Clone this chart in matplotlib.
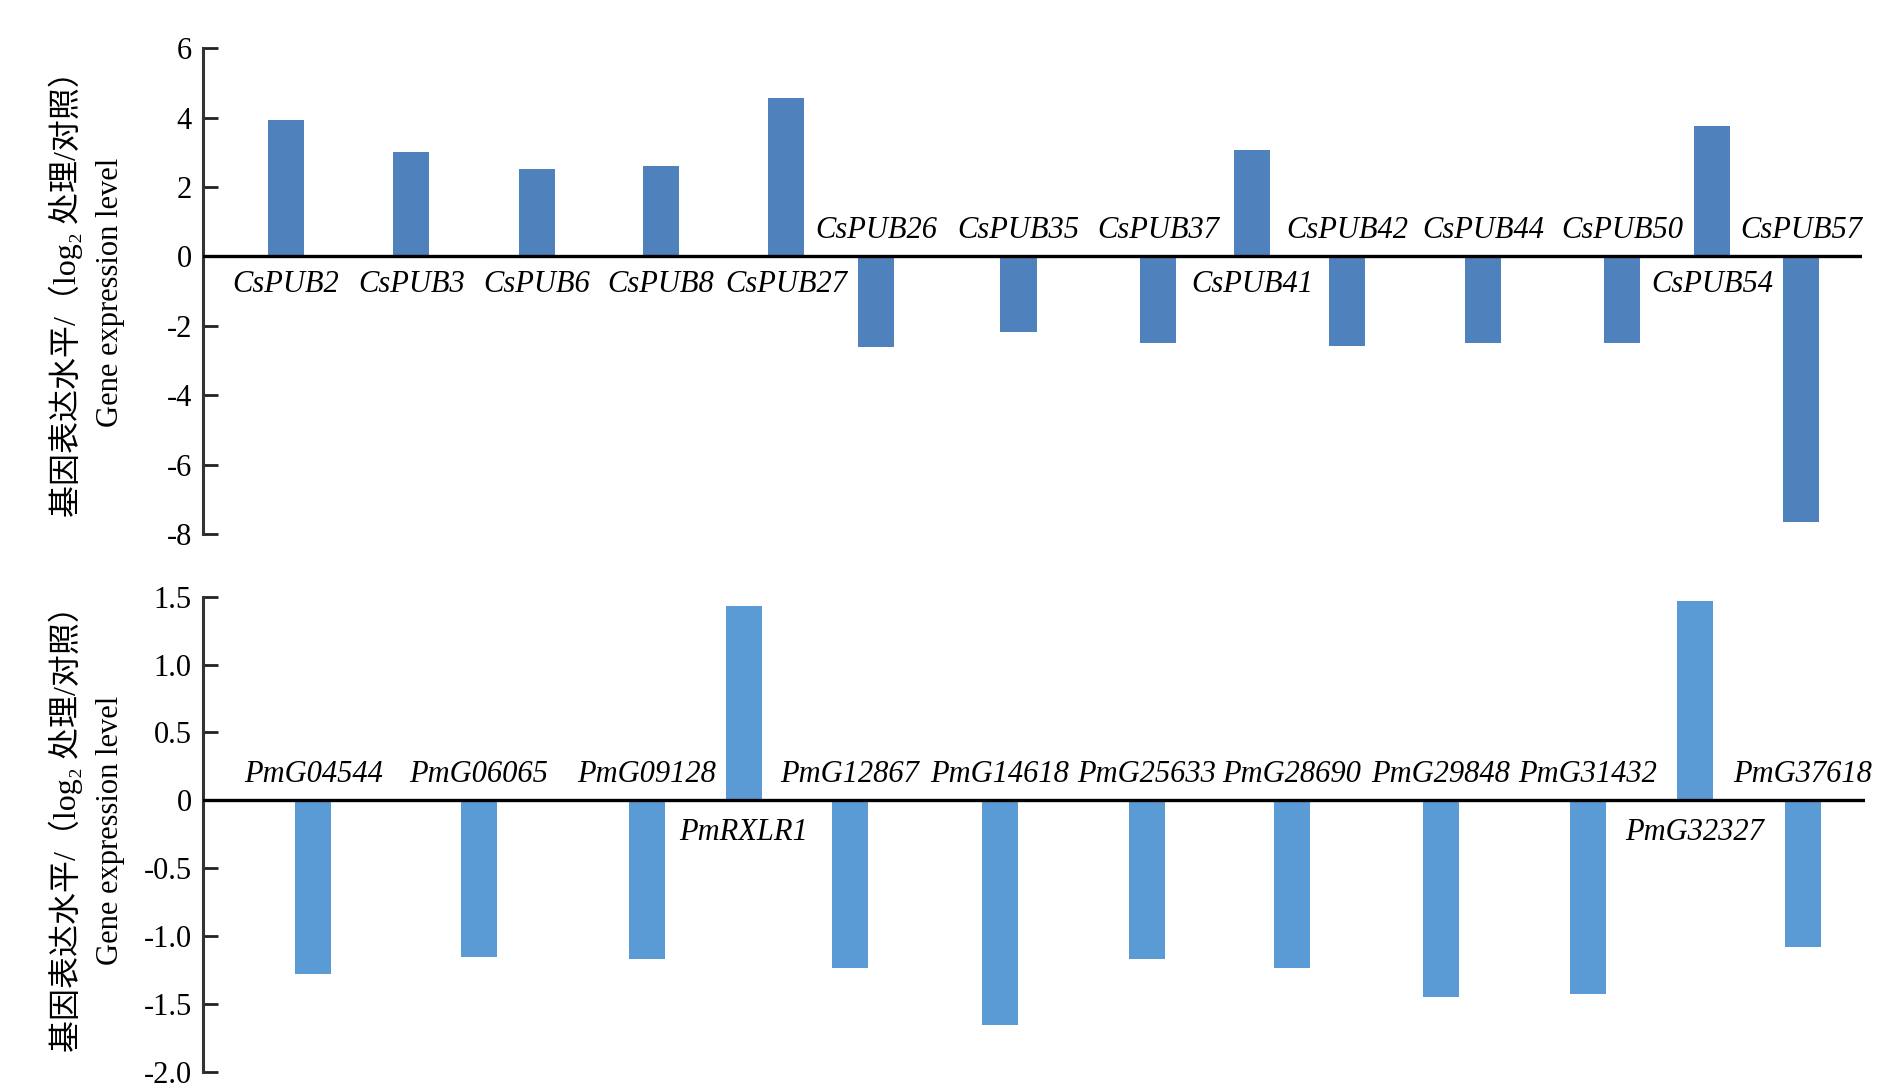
import numpy as np
import matplotlib
matplotlib.use("Agg")
import matplotlib.pyplot as plt

# ---- data -------------------------------------------------------------
top_genes = [
    "CsPUB2", "CsPUB3", "CsPUB6", "CsPUB8", "CsPUB27", "CsPUB26", "CsPUB35",
    "CsPUB37", "CsPUB41", "CsPUB42", "CsPUB44", "CsPUB50", "CsPUB54", "CsPUB57",
]
top_values = [3.92, 3.02, 2.53, 2.60, 4.55, -2.60, -2.19,
              -2.50, 3.06, -2.57, -2.50, -2.50, 3.75, -7.64]
top_ticks = [-8, -6, -4, -2, 0, 2, 4, 6]
top_tick_labels = ["-8", "-6", "-4", "-2", "0", "2", "4", "6"]

bottom_genes = [
    "PmG04544", "PmG06065", "PmG09128", "PmRXLR1", "PmG12867", "PmG14618",
    "PmG25633", "PmG28690", "PmG29848", "PmG31432", "PmG32327", "PmG37618",
]
bottom_values = [-1.28, -1.155, -1.17, 1.43, -1.24, -1.66,
                 -1.17, -1.24, -1.45, -1.43, 1.47, -1.08]
bottom_ticks = [-2.0, -1.5, -1.0, -0.5, 0, 0.5, 1.0, 1.5]
bottom_tick_labels = ["-2.0", "-1.5", "-1.0", "-0.5", "0", "0.5", "1.0", "1.5"]

ylabel_cn = "基因表达水平/（log₂ 处理/对照）"
ylabel_en = "Gene expression level"

# ---- layout (slot positions along each axis, hand spaced like the figure) --
top_slots = [0.69, 1.73, 2.77, 3.80, 4.84, 5.59, 6.77,
             7.93, 8.71, 9.50, 10.63, 11.78, 12.53, 13.27]
top_xmax = 13.77
bottom_slots = [0.915, 2.29, 3.685, 4.49, 5.37, 6.615,
                7.835, 9.04, 10.275, 11.495, 12.385, 13.28]
bottom_xmax = 13.80

SERIF = ["Liberation Serif", "DejaVu Serif"]
MIXED = ["Liberation Serif", "Noto Sans CJK SC", "DejaVu Sans"]

plt.rcParams["axes.unicode_minus"] = False
plt.rcParams["font.family"] = SERIF


def draw_panel(ax, slots, xmax, genes, values, color, ticks, tick_labels,
               ylim, above_pad, below_pad):
    ax.bar(slots, values, width=0.30, color=color, zorder=2)
    ax.axhline(0, color="black", linewidth=2.4, zorder=3)
    ax.set_xlim(0, xmax)
    ax.set_ylim(*ylim)
    ax.set_xticks([])
    ax.set_yticks(ticks)
    ax.set_yticklabels(tick_labels, fontsize=22, family=SERIF)
    ax.tick_params(axis="y", direction="in", length=11, width=2.0,
                   pad=8, colors="#222222", labelcolor="black")
    for side in ["top", "right", "bottom"]:
        ax.spines[side].set_visible(False)
    ax.spines["left"].set_color("#333333")
    ax.spines["left"].set_linewidth(2.2)

    # gene names sit on the opposite side of the axis from their bar
    for x, name, val in zip(slots, genes, values):
        if val >= 0:
            ax.annotate(name, (x, 0), xytext=(0, -below_pad),
                        textcoords="offset points", ha="center", va="top",
                        fontsize=22, style="italic", family=SERIF)
        else:
            ax.annotate(name, (x, 0), xytext=(0, above_pad),
                        textcoords="offset points", ha="center", va="bottom",
                        fontsize=22, style="italic", family=SERIF)


fig = plt.figure(figsize=(18.9, 10.87), dpi=100)
ax_top = fig.add_axes([0.1074, 0.5087, 0.8776, 0.4470])
ax_bot = fig.add_axes([0.1074, 0.0142, 0.8796, 0.4368])

draw_panel(ax_top, top_slots, top_xmax, top_genes, top_values, "#4F81BD",
           top_ticks, top_tick_labels, (-8, 6), above_pad=8, below_pad=10)
draw_panel(ax_bot, bottom_slots, bottom_xmax, bottom_genes, bottom_values,
           "#5B9BD5", bottom_ticks, bottom_tick_labels, (-2.0, 1.5),
           above_pad=8, below_pad=13)

label_y = {ax_top: (0.51, 0.498), ax_bot: (0.528, 0.508)}
for ax in [ax_top, ax_bot]:
    y_cn, y_en = label_y[ax]
    ax.text(-0.0826, y_cn, ylabel_cn, transform=ax.transAxes, rotation=90,
            ha="center", va="center", fontsize=23, family=MIXED)
    ax.text(-0.0555, y_en, ylabel_en, transform=ax.transAxes, rotation=90,
            ha="center", va="center", fontsize=22, family=SERIF)

fig.savefig("out.png", dpi=100)
